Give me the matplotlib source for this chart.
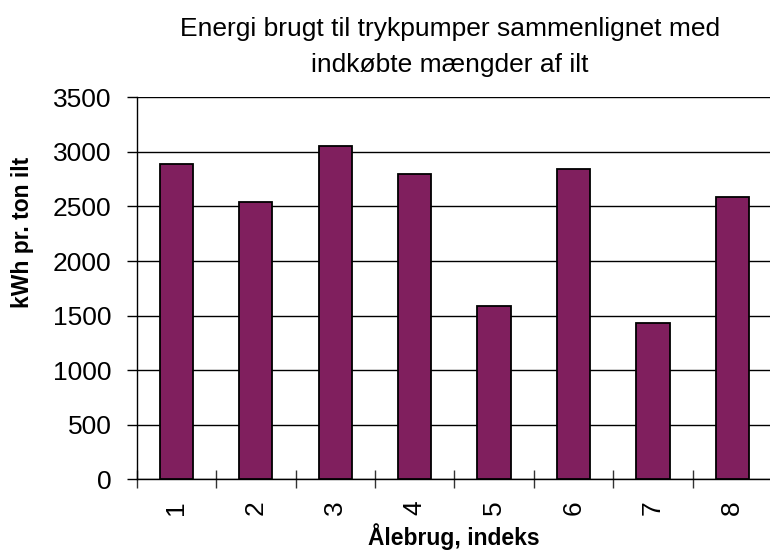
import numpy as np
import matplotlib
matplotlib.use("Agg")
import matplotlib.pyplot as plt

# data
categories = ["1", "2", "3", "4", "5", "6", "7", "8"]
kwh_per_ton = [2890, 2540, 3050, 2800, 1590, 2845, 1435, 2590]

title_lines = ["Energi brugt til trykpumper sammenlignet med", "indkøbte mængder af ilt"]
ylabel = "kWh pr. ton ilt"
xlabel = "Ålebrug, indeks"

plt.rcParams['font.family'] = ['Liberation Sans', 'DejaVu Sans']

W, H = 770., 554.
fig = plt.figure(figsize=(7.7, 5.54), dpi=100)
# plot area runs a little past the right edge, like the cropped original
ax = fig.add_axes([136.7/W, 1 - 479.3/H, (772-136.7)/W, (479.3-97.3)/H])

x = np.arange(len(categories))
ax.bar(x, kwh_per_ton, width=0.42, color='#801f5e', edgecolor='black', linewidth=1.3, zorder=3)

ax.set_xlim(-0.5, len(categories) - 0.5)
ax.set_ylim(0, 3500)
ax.set_yticks(np.arange(0, 3501, 500))
ax.yaxis.grid(True, color='black', linewidth=1.0, zorder=0)
ax.set_axisbelow(True)

ax.set_xticks(x)
ax.set_xticklabels(categories, rotation=90, fontsize=19)
ax.tick_params(axis='x', length=0, pad=15)
# category separators cross the axis, Excel style
ax.set_xticks(np.arange(-0.5, len(categories) - 0.5, 1), minor=True)
ax.tick_params(axis='x', which='minor', length=12.7, direction='inout', width=1, color='#333333')
ax.tick_params(axis='y', labelsize=19, length=7.2, width=1, direction='out', pad=11)

for s in ['top', 'right']:
    ax.spines[s].set_visible(False)
ax.spines['left'].set_linewidth(1.0)
ax.spines['bottom'].set_linewidth(1.0)

fig.text(22.5/W, 1 - 232/H, ylabel, rotation=90, ha='center', va='center',
         fontsize=16.5, fontweight='bold')
fig.text(454/W, 1 - 545/H, xlabel, ha='center', va='baseline',
         fontsize=16.5, fontweight='bold')

fig.text(450/W, 1 - 36/H, title_lines[0], ha='center', va='baseline', fontsize=19)
fig.text(450/W, 1 - 72/H, title_lines[1], ha='center', va='baseline', fontsize=19)

fig.savefig("out.png", dpi=100, facecolor='white')
